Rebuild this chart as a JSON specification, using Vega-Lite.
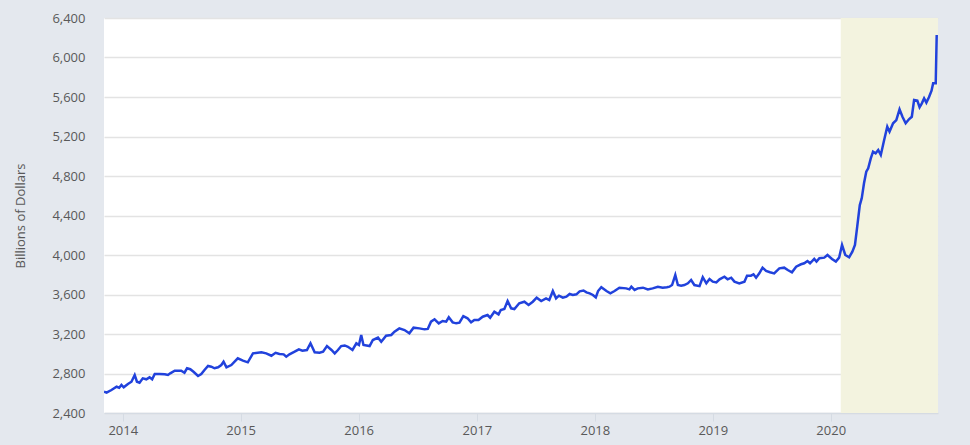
{
  "$schema": "https://vega.github.io/schema/vega-lite/v6.json",
  "autosize": "none",
  "width": 834,
  "height": 395,
  "padding": {"left": 104, "top": 18, "right": 32, "bottom": 32},
  "background": "#e4e8ee",
  "config": {
    "view": {"fill": "white", "stroke": null},
    "font": "Open Sans"
  },
  "datasets": {
    "recession": [{"start": "2020-02-01", "end": "2020-11-28"}],
    "series": [
      {"date": "2013-11-04", "value": 2616},
      {"date": "2013-11-12", "value": 2606},
      {"date": "2013-11-27", "value": 2633},
      {"date": "2013-12-13", "value": 2666},
      {"date": "2013-12-21", "value": 2656},
      {"date": "2013-12-28", "value": 2684},
      {"date": "2014-01-04", "value": 2660},
      {"date": "2014-01-17", "value": 2694},
      {"date": "2014-01-28", "value": 2717},
      {"date": "2014-02-07", "value": 2785},
      {"date": "2014-02-14", "value": 2717},
      {"date": "2014-02-22", "value": 2707},
      {"date": "2014-03-04", "value": 2751},
      {"date": "2014-03-15", "value": 2741},
      {"date": "2014-03-25", "value": 2761},
      {"date": "2014-04-02", "value": 2741},
      {"date": "2014-04-10", "value": 2795},
      {"date": "2014-04-25", "value": 2795},
      {"date": "2014-05-11", "value": 2792},
      {"date": "2014-05-21", "value": 2785},
      {"date": "2014-05-28", "value": 2802},
      {"date": "2014-06-11", "value": 2828},
      {"date": "2014-07-01", "value": 2828},
      {"date": "2014-07-11", "value": 2808},
      {"date": "2014-07-19", "value": 2853},
      {"date": "2014-07-29", "value": 2843},
      {"date": "2014-08-08", "value": 2818},
      {"date": "2014-08-22", "value": 2775},
      {"date": "2014-09-01", "value": 2795},
      {"date": "2014-09-11", "value": 2835},
      {"date": "2014-09-22", "value": 2876},
      {"date": "2014-10-02", "value": 2869},
      {"date": "2014-10-12", "value": 2853},
      {"date": "2014-10-23", "value": 2863},
      {"date": "2014-11-02", "value": 2886},
      {"date": "2014-11-09", "value": 2919},
      {"date": "2014-11-18", "value": 2863},
      {"date": "2014-12-03", "value": 2886},
      {"date": "2014-12-23", "value": 2954},
      {"date": "2015-01-08", "value": 2930},
      {"date": "2015-01-23", "value": 2913},
      {"date": "2015-02-08", "value": 3004},
      {"date": "2015-03-06", "value": 3014},
      {"date": "2015-03-21", "value": 3004},
      {"date": "2015-04-06", "value": 2980},
      {"date": "2015-04-19", "value": 3010},
      {"date": "2015-05-01", "value": 2997},
      {"date": "2015-05-14", "value": 2994},
      {"date": "2015-05-22", "value": 2970},
      {"date": "2015-06-01", "value": 2994},
      {"date": "2015-06-17", "value": 3021},
      {"date": "2015-06-30", "value": 3045},
      {"date": "2015-07-11", "value": 3031},
      {"date": "2015-07-25", "value": 3038},
      {"date": "2015-08-05", "value": 3106},
      {"date": "2015-08-18", "value": 3014},
      {"date": "2015-09-02", "value": 3010},
      {"date": "2015-09-13", "value": 3021},
      {"date": "2015-09-25", "value": 3078},
      {"date": "2015-10-09", "value": 3038},
      {"date": "2015-10-19", "value": 3004},
      {"date": "2015-10-29", "value": 3038},
      {"date": "2015-11-08", "value": 3078},
      {"date": "2015-11-19", "value": 3084},
      {"date": "2015-11-29", "value": 3071},
      {"date": "2015-12-13", "value": 3038},
      {"date": "2015-12-25", "value": 3106},
      {"date": "2016-01-02", "value": 3089},
      {"date": "2016-01-09", "value": 3190},
      {"date": "2016-01-16", "value": 3089},
      {"date": "2016-02-04", "value": 3078},
      {"date": "2016-02-14", "value": 3139},
      {"date": "2016-03-01", "value": 3163},
      {"date": "2016-03-11", "value": 3122},
      {"date": "2016-03-26", "value": 3183},
      {"date": "2016-04-11", "value": 3190},
      {"date": "2016-04-21", "value": 3223},
      {"date": "2016-05-06", "value": 3257},
      {"date": "2016-05-22", "value": 3240},
      {"date": "2016-06-06", "value": 3207},
      {"date": "2016-06-19", "value": 3264},
      {"date": "2016-07-07", "value": 3257},
      {"date": "2016-07-23", "value": 3247},
      {"date": "2016-08-02", "value": 3251},
      {"date": "2016-08-12", "value": 3325},
      {"date": "2016-08-23", "value": 3349},
      {"date": "2016-09-05", "value": 3308},
      {"date": "2016-09-17", "value": 3332},
      {"date": "2016-09-28", "value": 3325},
      {"date": "2016-10-06", "value": 3369},
      {"date": "2016-10-18", "value": 3318},
      {"date": "2016-10-29", "value": 3308},
      {"date": "2016-11-08", "value": 3315},
      {"date": "2016-11-20", "value": 3380},
      {"date": "2016-12-03", "value": 3359},
      {"date": "2016-12-14", "value": 3318},
      {"date": "2016-12-24", "value": 3342},
      {"date": "2017-01-06", "value": 3342},
      {"date": "2017-01-19", "value": 3375},
      {"date": "2017-02-03", "value": 3392},
      {"date": "2017-02-11", "value": 3365},
      {"date": "2017-02-24", "value": 3426},
      {"date": "2017-03-09", "value": 3399},
      {"date": "2017-03-16", "value": 3443},
      {"date": "2017-03-27", "value": 3453},
      {"date": "2017-04-06", "value": 3534},
      {"date": "2017-04-17", "value": 3460},
      {"date": "2017-04-27", "value": 3453},
      {"date": "2017-05-12", "value": 3511},
      {"date": "2017-05-28", "value": 3527},
      {"date": "2017-06-10", "value": 3494},
      {"date": "2017-06-23", "value": 3527},
      {"date": "2017-07-05", "value": 3568},
      {"date": "2017-07-19", "value": 3534},
      {"date": "2017-08-03", "value": 3561},
      {"date": "2017-08-13", "value": 3544},
      {"date": "2017-08-24", "value": 3635},
      {"date": "2017-09-03", "value": 3561},
      {"date": "2017-09-12", "value": 3588},
      {"date": "2017-09-24", "value": 3568},
      {"date": "2017-10-05", "value": 3578},
      {"date": "2017-10-15", "value": 3605},
      {"date": "2017-10-25", "value": 3595},
      {"date": "2017-11-05", "value": 3602},
      {"date": "2017-11-15", "value": 3632},
      {"date": "2017-11-27", "value": 3640},
      {"date": "2017-12-06", "value": 3622},
      {"date": "2017-12-16", "value": 3612},
      {"date": "2017-12-26", "value": 3595},
      {"date": "2018-01-04", "value": 3571},
      {"date": "2018-01-11", "value": 3635},
      {"date": "2018-01-21", "value": 3673},
      {"date": "2018-02-06", "value": 3635},
      {"date": "2018-02-18", "value": 3612},
      {"date": "2018-03-03", "value": 3635},
      {"date": "2018-03-18", "value": 3669},
      {"date": "2018-04-08", "value": 3662},
      {"date": "2018-04-18", "value": 3652},
      {"date": "2018-04-24", "value": 3679},
      {"date": "2018-05-04", "value": 3646},
      {"date": "2018-05-14", "value": 3662},
      {"date": "2018-05-30", "value": 3669},
      {"date": "2018-06-14", "value": 3652},
      {"date": "2018-06-29", "value": 3662},
      {"date": "2018-07-15", "value": 3679},
      {"date": "2018-07-30", "value": 3669},
      {"date": "2018-08-12", "value": 3673},
      {"date": "2018-08-20", "value": 3679},
      {"date": "2018-08-28", "value": 3696},
      {"date": "2018-09-07", "value": 3797},
      {"date": "2018-09-15", "value": 3696},
      {"date": "2018-09-25", "value": 3690},
      {"date": "2018-10-05", "value": 3696},
      {"date": "2018-10-16", "value": 3713},
      {"date": "2018-10-26", "value": 3747},
      {"date": "2018-11-05", "value": 3696},
      {"date": "2018-11-21", "value": 3685},
      {"date": "2018-12-01", "value": 3775},
      {"date": "2018-12-12", "value": 3713},
      {"date": "2018-12-22", "value": 3757},
      {"date": "2019-01-01", "value": 3730},
      {"date": "2019-01-12", "value": 3723},
      {"date": "2019-01-22", "value": 3754},
      {"date": "2019-02-06", "value": 3780},
      {"date": "2019-02-16", "value": 3754},
      {"date": "2019-02-27", "value": 3770},
      {"date": "2019-03-09", "value": 3730},
      {"date": "2019-03-24", "value": 3713},
      {"date": "2019-04-09", "value": 3730},
      {"date": "2019-04-17", "value": 3791},
      {"date": "2019-04-29", "value": 3791},
      {"date": "2019-05-07", "value": 3804},
      {"date": "2019-05-15", "value": 3770},
      {"date": "2019-05-25", "value": 3814},
      {"date": "2019-06-04", "value": 3872},
      {"date": "2019-06-15", "value": 3838},
      {"date": "2019-06-27", "value": 3825},
      {"date": "2019-07-10", "value": 3814},
      {"date": "2019-07-26", "value": 3865},
      {"date": "2019-08-10", "value": 3872},
      {"date": "2019-08-21", "value": 3848},
      {"date": "2019-09-03", "value": 3825},
      {"date": "2019-09-16", "value": 3882},
      {"date": "2019-10-01", "value": 3906},
      {"date": "2019-10-11", "value": 3916},
      {"date": "2019-10-21", "value": 3939},
      {"date": "2019-10-29", "value": 3916},
      {"date": "2019-11-11", "value": 3960},
      {"date": "2019-11-18", "value": 3933},
      {"date": "2019-11-27", "value": 3967},
      {"date": "2019-12-12", "value": 3973},
      {"date": "2019-12-22", "value": 4000},
      {"date": "2020-01-05", "value": 3960},
      {"date": "2020-01-17", "value": 3933},
      {"date": "2020-01-27", "value": 3973},
      {"date": "2020-02-05", "value": 4101},
      {"date": "2020-02-15", "value": 4000},
      {"date": "2020-02-27", "value": 3977},
      {"date": "2020-03-08", "value": 4034},
      {"date": "2020-03-16", "value": 4101},
      {"date": "2020-03-23", "value": 4287},
      {"date": "2020-03-31", "value": 4506},
      {"date": "2020-04-06", "value": 4574},
      {"date": "2020-04-13", "value": 4726},
      {"date": "2020-04-20", "value": 4844},
      {"date": "2020-04-26", "value": 4878},
      {"date": "2020-05-04", "value": 4979},
      {"date": "2020-05-11", "value": 5046},
      {"date": "2020-05-19", "value": 5030},
      {"date": "2020-05-27", "value": 5063},
      {"date": "2020-06-04", "value": 5013},
      {"date": "2020-06-14", "value": 5160},
      {"date": "2020-06-24", "value": 5300},
      {"date": "2020-07-01", "value": 5249},
      {"date": "2020-07-12", "value": 5334},
      {"date": "2020-07-22", "value": 5367},
      {"date": "2020-08-01", "value": 5475},
      {"date": "2020-08-10", "value": 5400},
      {"date": "2020-08-20", "value": 5334},
      {"date": "2020-08-30", "value": 5374},
      {"date": "2020-09-08", "value": 5400},
      {"date": "2020-09-15", "value": 5570},
      {"date": "2020-09-25", "value": 5563},
      {"date": "2020-10-02", "value": 5496},
      {"date": "2020-10-09", "value": 5536},
      {"date": "2020-10-16", "value": 5587},
      {"date": "2020-10-23", "value": 5543},
      {"date": "2020-10-31", "value": 5597},
      {"date": "2020-11-08", "value": 5664},
      {"date": "2020-11-13", "value": 5739},
      {"date": "2020-11-21", "value": 5739},
      {"date": "2020-11-24", "value": 6228}
    ]
  },
  "encoding": {
    "x": {
      "type": "temporal",
      "scale": {"domain": ["2013-11-04", "2020-11-28"], "nice": false},
      "axis": {
        "title": null,
        "format": "%Y",
        "tickCount": {"interval": "year", "step": 1},
        "grid": false,
        "domain": true,
        "domainColor": "#d5dbe3",
        "domainWidth": 1.5,
        "tickColor": "#d5dbe3",
        "tickSize": 8,
        "labelPadding": 3,
        "labelFontSize": 13,
        "labelColor": "#595959",
        "labelFont": "Open Sans"
      }
    },
    "y": {
      "type": "quantitative",
      "scale": {"domain": [2400, 6400], "nice": false, "zero": false},
      "axis": {
        "title": "Billions of Dollars",
        "titleFontSize": 13,
        "titleFontWeight": "normal",
        "titleColor": "#595959",
        "titleFont": "Open Sans",
        "titlePadding": 24,
        "values": [2400, 2800, 3200, 3600, 4000, 4400, 4800, 5200, 5600, 6000, 6400],
        "format": ",.0f",
        "labelOverlap": false,
        "domain": false,
        "ticks": false,
        "grid": true,
        "gridColor": "#e3e3e3",
        "gridWidth": 1.5,
        "labelPadding": 19,
        "labelFontSize": 13,
        "labelColor": "#595959",
        "labelFont": "Open Sans"
      }
    }
  },
  "layer": [
    {
      "data": {"name": "recession"},
      "mark": {"type": "rect", "color": "#f3f3df"},
      "encoding": {
        "x": {"field": "start"},
        "x2": {"field": "end"},
        "y": {"datum": 6400},
        "y2": {"datum": 2400}
      }
    },
    {
      "data": {"name": "series"},
      "mark": {"type": "line", "color": "#2142dc", "strokeWidth": 2.5, "strokeJoin": "miter", "clip": true},
      "encoding": {
        "x": {"field": "date"},
        "y": {"field": "value"}
      }
    }
  ]
}
